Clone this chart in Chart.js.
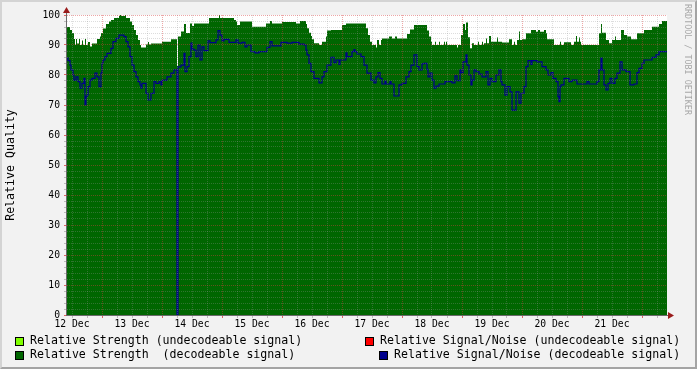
<!DOCTYPE html>
<html>
<head>
<meta charset="utf-8">
<script src="https://cdn.jsdelivr.net/npm/chart.js@4.4.1/dist/chart.umd.min.js"></script>
<style>
html,body{margin:0;padding:0;}
body{width:697px;height:369px;background:#f2f2f2;position:relative;overflow:hidden;font-family:"DejaVu Sans Mono",monospace;}
#frame{position:absolute;left:0;top:0;width:697px;height:369px;box-sizing:border-box;border-style:solid;border-width:2px;border-color:#d4d4d4 #a4a4a4 #a4a4a4 #d4d4d4;pointer-events:none;}
#c{position:absolute;left:0;top:0;}
.txt{position:absolute;font-size:11.6px;line-height:14px;white-space:pre;color:#000;}
.box{position:absolute;width:7px;height:7px;border:1px solid #000;}
#wm{position:absolute;left:683px;top:4px;writing-mode:vertical-rl;font-size:8.4px;line-height:10px;color:#a8a8a8;white-space:pre;}
</style>
</head>
<body>
<canvas id="c" width="697" height="369"></canvas>
<div id="legend"></div>
<div id="wm">RRDTOOL / TOBI OETIKER</div>
<div id="frame"></div>
<script>
// ---- DATA (x = hours since 12 Dec 00:00) ----
const X_MIN = 10, X_MAX = 250;
const dayLabels = ['12 Dec','13 Dec','14 Dec','15 Dec','16 Dec','17 Dec','18 Dec','19 Dec','20 Dec','21 Dec'];
const yLabelValues = [0,10,20,30,40,50,60,70,80,90,100];
const seriesNames = [
  'Relative Strength (undecodeable signal)',
  'Relative Signal/Noise (undecodeable signal)',
  'Relative Strength  (decodeable signal)',
  'Relative Signal/Noise (decodeable signal)'
];

const strengthHours = [
  10.0, 11.2, 12.0, 12.8, 13.2, 13.6, 14.0, 14.8, 15.2, 16.0,
  16.4, 17.2, 17.6, 18.4, 19.2, 20.0, 22.0, 23.2, 23.6, 24.4,
  25.6, 26.8, 27.6, 28.8, 30.8, 31.2, 31.6, 33.2, 33.6, 35.2,
  36.0, 36.8, 37.6, 38.4, 39.2, 39.6, 41.6, 42.4, 42.8, 43.6,
  48.0, 51.6, 54.0, 54.4, 55.6, 56.8, 57.6, 59.2, 60.0, 60.8,
  66.8, 70.8, 71.2, 76.8, 77.6, 78.0, 79.2, 84.0, 89.6, 91.2,
  92.0, 96.0, 101.6, 103.2, 105.6, 106.0, 106.8, 107.6, 108.0, 108.8,
  110.8, 112.0, 113.6, 114.0, 115.6, 120.0, 121.6, 129.6, 130.4, 131.2,
  132.0, 133.6, 134.0, 134.8, 135.6, 136.0, 138.8, 140.0, 141.2, 142.0,
  146.0, 147.2, 148.8, 154.0, 154.8, 155.6, 156.0, 157.2, 157.6, 158.8,
  159.2, 160.8, 161.2, 161.6, 162.0, 166.0, 166.4, 167.6, 168.4, 169.2,
  169.6, 170.4, 171.2, 172.0, 172.8, 174.4, 174.8, 176.0, 176.4, 176.8,
  177.6, 178.0, 178.8, 179.6, 182.0, 182.4, 184.0, 186.8, 188.0, 188.8,
  189.2, 190.0, 190.8, 191.2, 192.0, 193.6, 195.6, 197.6, 198.4, 199.2,
  200.8, 201.6, 202.0, 204.8, 207.2, 207.6, 208.8, 211.6, 212.8, 213.6,
  214.0, 214.8, 215.2, 215.6, 222.8, 223.6, 224.0, 225.6, 226.8, 228.0,
  229.2, 229.6, 231.6, 232.8, 234.0, 235.6, 238.0, 240.8, 244.0, 246.8,
  248.0
];
const strengthValues = [
  96, 95, 94, 92, 90, 92, 90.5, 92, 90, 91.5,
  90, 92, 90, 91, 89.5, 90.5, 92, 92.8, 94, 95.5,
  97, 97.8, 98.3, 99, 99.7, 100, 99.7, 100, 99, 97.8,
  96.7, 95, 93.3, 91.7, 90, 89.2, 90.2, 91, 90.2, 90.5,
  91.1, 91.9, 83, 92.8, 94.5, 97, 94, 97.2, 96.3, 97.2,
  99, 100, 99, 98.3, 97.8, 96.7, 97.8, 96.1, 97.2, 98,
  97.2, 97.7, 97.2, 98, 97, 95.6, 94.1, 93, 91.9, 90.6,
  90, 91.1, 92.8, 94.8, 95, 96.7, 97.2, 95.6, 93.3, 91.1,
  90, 89.2, 91.7, 90, 91.7, 92.2, 92.8, 92.2, 92.8, 92.2,
  93.7, 95.2, 96.7, 94.8, 92.8, 91.1, 90, 91.1, 90, 91.1,
  90, 91.1, 90, 91.1, 90, 89.2, 90, 93.3, 97, 95,
  97.5, 92.6, 88.9, 90.6, 90, 91.1, 90, 91.1, 90, 90.6,
  92.2, 90.6, 93, 91.1, 92.5, 91.1, 90.8, 91.9, 90, 91.1,
  90, 91.7, 94.5, 91.7, 91.9, 93.9, 95, 94.4, 95, 94.4,
  95, 93.9, 91.9, 90, 91.1, 90, 90.9, 90, 91.1, 93,
  91.1, 92.5, 91.1, 90, 93.9, 97, 94.1, 91.7, 90.6, 91.7,
  92.8, 91.7, 95, 93.3, 92.8, 91.9, 93.9, 95, 96.1, 97,
  98
];

const snrHours = [
  10.0, 10.4, 11.2, 11.6, 12.4, 12.8, 13.6, 14.4, 15.2, 16.0,
  16.8, 17.2, 17.6, 18.0, 18.4, 19.2, 20.0, 21.2, 22.0, 22.8,
  23.6, 24.0, 24.4, 25.2, 26.0, 27.6, 28.4, 29.6, 30.8, 32.8,
  33.6, 34.4, 35.2, 36.0, 36.8, 37.6, 38.4, 39.2, 39.6, 40.0,
  41.6, 42.4, 43.6, 44.8, 45.6, 46.8, 47.6, 48.0, 50.0, 51.6,
  52.8, 54.0, 54.4, 55.6, 56.8, 57.2, 58.0, 58.8, 59.6, 60.0,
  60.8, 61.6, 62.4, 63.2, 64.0, 64.8, 66.4, 67.2, 69.6, 70.4,
  71.2, 72.0, 72.8, 74.8, 77.6, 78.4, 80.0, 81.2, 82.0, 83.6,
  85.2, 86.8, 90.0, 91.2, 92.0, 95.6, 98.0, 100.0, 102.8, 104.8,
  105.6, 106.0, 106.8, 107.6, 108.8, 110.8, 112.0, 112.8, 114.0, 115.6,
  116.8, 117.6, 118.8, 119.2, 121.6, 122.0, 124.0, 124.8, 125.2, 126.0,
  127.6, 128.8, 130.0, 131.6, 132.8, 133.6, 134.4, 135.2, 136.0, 137.2,
  137.6, 139.2, 139.6, 140.8, 142.8, 144.0, 145.6, 146.8, 147.6, 148.8,
  150.0, 150.8, 152.0, 152.8, 154.0, 154.4, 155.2, 156.0, 156.8, 157.6,
  158.8, 161.2, 164.0, 165.2, 166.0, 167.2, 167.6, 168.4, 169.6, 170.0,
  170.8, 171.6, 172.0, 172.8, 173.6, 174.8, 176.0, 177.6, 178.4, 179.2,
  180.0, 181.6, 182.8, 183.6, 184.0, 185.2, 186.0, 187.2, 188.0, 189.6,
  190.8, 191.6, 192.8, 193.6, 194.4, 195.6, 196.0, 198.0, 200.0, 201.6,
  202.4, 203.6, 204.4, 205.6, 206.4, 206.8, 207.2, 207.6, 208.8, 210.8,
  212.0, 214.0, 218.0, 218.8, 222.0, 222.8, 223.6, 224.0, 224.8, 225.6,
  226.4, 227.2, 228.0, 229.2, 230.0, 231.2, 232.0, 233.6, 235.2, 236.8,
  238.0, 238.8, 240.0, 240.8, 244.0, 245.6, 246.8
];
const snrValues = [
  85.6, 84.8, 83.3, 81.7, 80, 78.3, 79.4, 77.8, 75.6, 77.2,
  78.9, 70, 72.8, 73.3, 76.1, 78.3, 78.9, 80.6, 79.4, 76.1,
  80.6, 83.9, 85, 86.1, 87.2, 88.9, 91.1, 92.2, 93.3, 92.8,
  91.1, 89.4, 86.1, 83.3, 81.1, 79.4, 77.8, 76.7, 75.6, 77.2,
  73.9, 71.7, 73.9, 77.8, 77.2, 77.8, 76.7, 78.3, 79.4, 80.6,
  81.7, 0, 82.7, 83.3, 87.2, 81.1, 82.8, 86.1, 90.6, 88.6,
  88.3, 86.1, 90, 85, 89.4, 88.1, 91.4, 90.8, 91.7, 94.8,
  93.3, 91.4, 91.9, 90.9, 91.7, 90.6, 90.9, 89.4, 90, 87.8,
  87.4, 87.8, 89.2, 91.1, 89.7, 90.9, 90.6, 90.9, 90.3, 90,
  88.3, 86.7, 83.9, 81.1, 78.9, 77.4, 79.4, 81.1, 83.3, 85.9,
  84.1, 85, 83.5, 85, 87.4, 86.1, 87.8, 88.5, 87.8, 87,
  86.1, 83.3, 80.6, 78.3, 77.4, 79.4, 80.8, 78.9, 77, 78,
  77, 77.8, 77, 73, 76.7, 77.2, 79.4, 81.1, 83.3, 86.7,
  82.8, 81.7, 83.7, 83.9, 81.9, 79.4, 80.6, 78.3, 75.6, 76.3,
  77, 77.8, 77.4, 79.7, 78.1, 81.7, 80.8, 84.4, 86.7, 83.3,
  80, 76.7, 78.3, 81.7, 81.1, 80.3, 79.4, 81.1, 76.7, 78.9,
  77.8, 80, 81.7, 77.8, 76.7, 73.3, 76.1, 74.4, 68.3, 74.4,
  70.6, 73.9, 76.1, 82.8, 84.8, 83.5, 84.8, 84.4, 82.8, 81.7,
  80, 80.8, 78.9, 77.8, 72.8, 71.1, 76.1, 76.7, 78.9, 77.8,
  78.3, 77, 77.8, 77, 77.8, 81.7, 85.6, 81.7, 76.7, 75,
  77.2, 78.9, 77.2, 78.9, 80.6, 84.4, 81.7, 81.1, 76.7, 77,
  80.8, 82.2, 83.9, 85, 85.9, 86.7, 87.8
];

// ---- styling ----
const MONO = '"DejaVu Sans Mono", monospace';
const GRID_MINOR = 'rgba(150,150,150,0.32)';
const GRID_MAJOR = 'rgba(215,60,60,0.45)';
const COL_STRENGTH = '#006600';
const COL_SNR = '#00008c';
const COL_UNDEC_STRENGTH = '#80ff00';
const COL_UNDEC_SNR = '#ff0000';

function stepPoints(hours, values) {
  const pts = hours.map((h, i) => ({x: h, y: values[i]}));
  pts.push({x: X_MAX, y: values[values.length - 1]});
  return pts;
}

const xTicks = [];
for (let h = 12; h < X_MAX; h += 6) xTicks.push(h);

const plotFrame = {
  id: 'plotFrame',
  beforeDraw(chart) {
    const {ctx, chartArea: a} = chart;
    ctx.save();
    ctx.fillStyle = '#ffffff';
    ctx.fillRect(a.left, a.top, a.right - a.left, a.bottom - a.top);
    ctx.restore();
  },
  afterDraw(chart) {
    const {ctx, chartArea: a} = chart;
    ctx.save();
    ctx.strokeStyle = '#6a6a6a';
    ctx.lineWidth = 1;
    ctx.beginPath();
    ctx.moveTo(a.left - 0.5, a.bottom + 0.5);
    ctx.lineTo(a.left - 0.5, a.top - 4);
    ctx.moveTo(a.left - 1, a.bottom + 0.5);
    ctx.lineTo(a.right + 3, a.bottom + 0.5);
    ctx.stroke();
    ctx.fillStyle = '#9a1c1c';
    ctx.beginPath();
    ctx.moveTo(a.left - 4, a.top - 2);
    ctx.lineTo(a.left + 3, a.top - 2);
    ctx.lineTo(a.left - 0.5, a.top - 8);
    ctx.closePath();
    ctx.fill();
    ctx.beginPath();
    ctx.moveTo(a.right + 1, a.bottom - 3);
    ctx.lineTo(a.right + 1, a.bottom + 4);
    ctx.lineTo(a.right + 7, a.bottom + 0.5);
    ctx.closePath();
    ctx.fill();
    ctx.restore();
  }
};

new Chart(document.getElementById('c'), {
  type: 'line',
  data: {
    datasets: [
      {
        label: seriesNames[3],
        data: stepPoints(snrHours, snrValues),
        stepped: 'before',
        borderColor: COL_SNR,
        borderWidth: 1.2,
        pointRadius: 0,
        fill: false,
        order: 0
      },
      {
        label: seriesNames[2],
        data: stepPoints(strengthHours, strengthValues),
        stepped: 'before',
        borderWidth: 0,
        borderColor: COL_STRENGTH,
        backgroundColor: COL_STRENGTH,
        pointRadius: 0,
        fill: 'origin',
        order: 1
      }
    ]
  },
  options: {
    responsive: false,
    animation: false,
    devicePixelRatio: 1,
    layout: {padding: {left: 0, top: 15, right: 30, bottom: 34}},
    plugins: {legend: {display: false}, tooltip: {enabled: false}},
    scales: {
      x: {
        type: 'linear',
        min: X_MIN,
        max: X_MAX,
        afterBuildTicks(scale) { scale.ticks = xTicks.map(v => ({value: v})); },
        afterFit(scale) { scale.height = 20; },
        ticks: {
          autoSkip: false,
          maxRotation: 0,
          padding: 1,
          color: '#000',
          font: {family: MONO, size: 9.7},
          callback(v) {
            if ((v - 12) % 24 !== 0) return '';
            return dayLabels[(v - 12) / 24] || '';
          }
        },
        grid: {
          z: 1,
          lineWidth: 1,
          tickLength: 3,
          color: c => (c.tick && c.tick.value % 24 === 0) ? GRID_MAJOR : GRID_MINOR,
          tickColor: c => (c.tick && c.tick.value % 24 === 0) ? 'rgba(220,60,60,0.8)' : 'rgba(150,150,150,0.6)'
        },
        border: {display: false, dash: [1, 1]}
      },
      y: {
        min: 0,
        max: 100,
        afterFit(scale) { scale.width = 67; },
        ticks: {
          stepSize: 2,
          autoSkip: false,
          padding: 4,
          color: '#000',
          font: {family: MONO, size: 9.7},
          callback(v) { return yLabelValues.includes(v) ? String(v) : ''; }
        },
        grid: {
          z: 1,
          lineWidth: 1,
          tickLength: 3,
          color: c => (c.tick && c.tick.value % 10 === 0) ? GRID_MAJOR : GRID_MINOR,
          tickColor: c => (c.tick && c.tick.value % 10 === 0) ? 'rgba(220,60,60,0.8)' : 'rgba(150,150,150,0.6)'
        },
        border: {display: false, dash: [1, 1]},
        title: {
          display: true,
          text: 'Relative Quality',
          color: '#000',
          font: {family: MONO, size: 11.6},
          padding: {top: 4, bottom: 4}
        }
      }
    }
  },
  plugins: [plotFrame]
});

// ---- legend (HTML text) ----
const legendItems = [
  {name: seriesNames[0], color: COL_UNDEC_STRENGTH, box: [15, 337], text: [30, 333]},
  {name: seriesNames[1], color: COL_UNDEC_SNR, box: [365, 337], text: [380, 333]},
  {name: seriesNames[2], color: COL_STRENGTH, box: [15, 351], text: [30, 347]},
  {name: seriesNames[3], color: COL_SNR, box: [379, 351], text: [394, 347]}
];
const lg = document.getElementById('legend');
legendItems.forEach(it => {
  const b = document.createElement('div');
  b.className = 'box';
  b.style.left = it.box[0] + 'px';
  b.style.top = it.box[1] + 'px';
  b.style.background = it.color;
  lg.appendChild(b);
  const t = document.createElement('div');
  t.className = 'txt';
  t.style.left = it.text[0] + 'px';
  t.style.top = it.text[1] + 'px';
  t.textContent = it.name;
  lg.appendChild(t);
});
</script>
</body>
</html>
